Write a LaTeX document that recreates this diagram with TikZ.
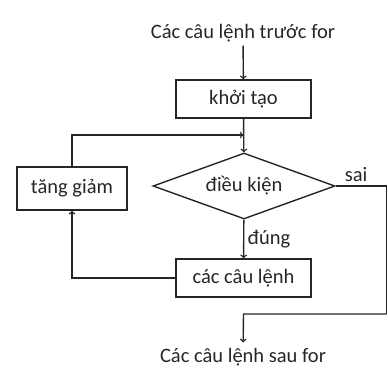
\documentclass[tikz,border=0pt]{standalone}
\usepackage{fontspec}
\setmainfont{Carlito}
\usetikzlibrary{shapes.geometric, arrows, positioning, calc}
\tikzstyle{block} = [rectangle, minimum width=135pt, minimum height=38pt, text centered, draw=black!85, inner sep=0pt]
\tikzstyle{decision} = [diamond, aspect=2.75, minimum width=182pt, minimum height=66pt, text centered, draw=black!85, inner sep=0pt]
\tikzstyle{arrow} = [->,>=to]

\begin{document}
\begin{tikzpicture}[x=1pt, y=-1pt, line width=1.4pt, color=black!85, font=\fontsize{20.5}{24}\selectfont]
    \useasboundingbox (0,0) rectangle (388,368);
    \node (pre) [inner sep=3pt] at (243,33) {Các câu lệnh trước for};
    \node (init) [block] at (243.5,99) {khởi tạo};
    \node (cond) [decision] at (244,186) {điều kiện};
    \node (incr) [block, minimum width=110pt, minimum height=43pt] at (72,188.5) {tăng giảm};
    \node (body) [block] at (243.5,278) {các câu lệnh};
    \node (post) [inner sep=5pt] at (243,357) {Các câu lệnh sau for};
    \coordinate (join) at (243.5,135);
    \coordinate (out) at (386.5,314);
    \coordinate (merge) at (243.5,314);

    \draw [arrow] (pre) -- (init);
    \draw [arrow] (init) -- (cond);
    \draw [arrow] (incr) |- (join);
    \draw [arrow] (cond) -- node[right] (yes) {đúng} (body);
    \draw [arrow] (body) -| (incr);
    \draw (cond.east) -| node[above, pos=0.2] (no) {sai} (out);
    \draw [arrow] (out) -- (merge) -- (post);
\end{tikzpicture}
\end{document}
